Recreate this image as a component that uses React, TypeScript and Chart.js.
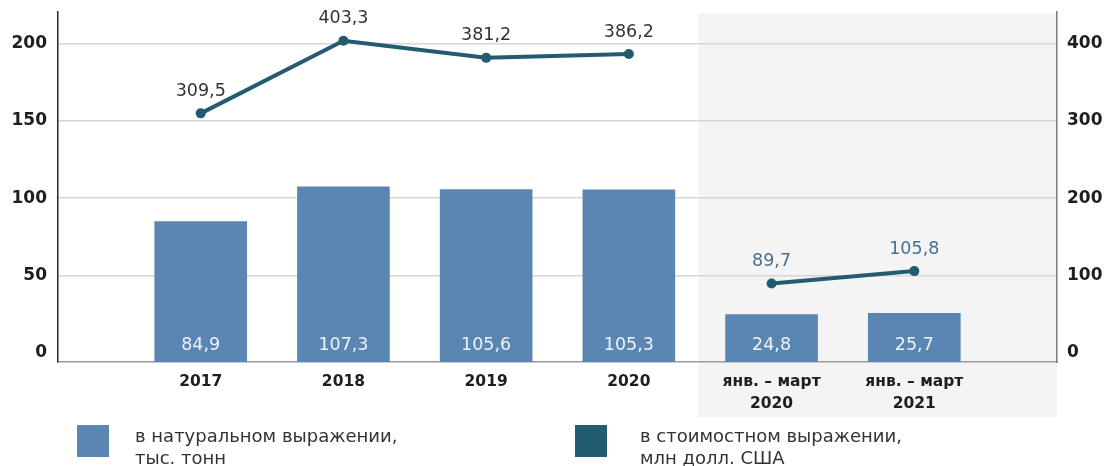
import React, { useEffect, useRef } from "react";
import { Chart, registerables } from "chart.js";

Chart.register(...registerables);

const categories: (string | string[])[] = ["2017", "2018", "2019", "2020", ["янв. – март", "2020"], ["янв. – март", "2021"]];
const volumeValues = [84.9, 107.3, 105.6, 105.3, 24.8, 25.7];
const valueValues = [309.5, 403.3, 381.2, 386.2, null, 89.7, 105.8];
const valueXs = [0, 1, 2, 3, 3.5, 4, 5];
const leftTicks = [0, 50, 100, 150, 200];
const rightTicks = [0, 100, 200, 300, 400];
const seriesNames = ["в натуральном выражении,\nтыс. тонн", "в стоимостном выражении,\nмлн долл. США"];

const FONT = "'DejaVu Sans', sans-serif";
const BAR_COLOR = "#5a86b4";
const LINE_COLOR = "#235b70";

const fmt = (v: number) => v.toFixed(1).replace(".", ",");

const zeroPad = (s: any) => {
  s.paddingTop = 0;
  s.paddingBottom = 0;
  s.paddingLeft = 0;
  s.paddingRight = 0;
};

export default function App() {
  const ref = useRef<HTMLCanvasElement | null>(null);

  useEffect(() => {
    if (!ref.current) return;

    const shadePlugin = {
      id: "shade",
      beforeDraw(chart: any) {
        const { ctx, chartArea, scales } = chart;
        const x0 = scales.x.getPixelForValue(3.5) - 2;
        ctx.save();
        ctx.fillStyle = "#f4f4f4";
        ctx.fillRect(x0, chartArea.top + 1, chartArea.right - x0, 416 - chartArea.top);
        ctx.restore();
      },
    };

    const labelPlugin = {
      id: "labels",
      afterDatasetsDraw(chart: any) {
        const { ctx } = chart;
        ctx.save();
        ctx.font = `17.5px ${FONT}`;
        ctx.textAlign = "center";
        ctx.textBaseline = "middle";
        const barMeta = chart.getDatasetMeta(0);
        barMeta.data.forEach((el: any, i: number) => {
          ctx.fillStyle = "#eef2f7";
          ctx.fillText(fmt(volumeValues[i]), el.x, 345);
        });
        const lineMeta = chart.getDatasetMeta(1);
        lineMeta.data.forEach((el: any, i: number) => {
          const v = valueValues[i];
          if (v === null || v === undefined) return;
          ctx.fillStyle = valueXs[i] > 3.5 ? "#47708f" : "#333333";
          ctx.fillText(fmt(v), el.x, el.y - 22);
        });
        ctx.restore();
      },
    };

    const chart = new Chart(ref.current, {
      type: "bar",
      data: {
        datasets: [
          {
            type: "bar",
            label: "volume",
            data: volumeValues.map((v, i) => ({ x: i, y: v })),
            backgroundColor: BAR_COLOR,
            barThickness: 92,
            base: -5.8,
            yAxisID: "y",
            xAxisID: "x",
            order: 2,
          } as any,
          {
            type: "line",
            label: "value",
            data: valueValues.map((v, i) => ({ x: valueXs[i], y: v })),
            borderColor: LINE_COLOR,
            backgroundColor: LINE_COLOR,
            borderWidth: 4,
            pointRadius: 5,
            pointBackgroundColor: LINE_COLOR,
            pointBorderWidth: 0,
            spanGaps: false,
            yAxisID: "y2",
            xAxisID: "x",
            order: 1,
          } as any,
        ],
      },
      options: {
        animation: false,
        responsive: false,
        maintainAspectRatio: false,
        layout: { padding: { top: 12, left: 0, right: 0, bottom: 0 } },
        plugins: {
          legend: { display: false },
          tooltip: { enabled: false },
        },
        scales: {
          x: {
            type: "linear",
            min: -1,
            max: 6,
            offset: false,
            position: "bottom",
            grid: { display: false, drawTicks: false, offset: false },
            border: { display: true, color: "#9a9a9a", width: 1.5 },
            afterBuildTicks: (s: any) => {
              s.ticks = categories.map((_, i) => ({ value: i }));
            },
            afterFit: (s: any) => {
              s.height = 104;
              zeroPad(s);
            },
            ticks: {
              autoSkip: false,
              maxRotation: 0,
              padding: 9,
              color: "#1e1e1e",
              font: { family: FONT, size: 15.5, weight: "bold", lineHeight: 1.42 },
              callback: (v: any) => {
                const c = categories[Math.round(Number(v))];
                return c === undefined ? "" : c;
              },
            },
          },
          y: {
            type: "linear",
            position: "left",
            min: -5.8,
            max: 220.2,
            afterBuildTicks: (s: any) => {
              s.ticks = leftTicks.map((v) => ({ value: v }));
            },
            afterFit: (s: any) => {
              s.width = 58;
              zeroPad(s);
            },
            grid: {
              drawTicks: false,
              color: (c: any) => (c.tick && c.tick.value === 0 ? "rgba(0,0,0,0)" : "#d6d6d6"),
              lineWidth: 1.5,
            },
            border: { display: true, color: "#2a2a2a", width: 1.5 },
            ticks: {
              padding: 11,
              color: "#1e1e1e",
              font: { family: FONT, size: 17, weight: "bold" },
            },
          },
          y2: {
            type: "linear",
            position: "right",
            min: -11.6,
            max: 440.4,
            afterBuildTicks: (s: any) => {
              s.ticks = rightTicks.map((v) => ({ value: v }));
            },
            afterFit: (s: any) => {
              s.width = 56;
              zeroPad(s);
            },
            grid: { display: false, drawTicks: false },
            border: { display: true, color: "#7a7a7a", width: 1.5 },
            ticks: {
              padding: 10,
              color: "#1e1e1e",
              font: { family: FONT, size: 17, weight: "bold" },
            },
          },
        },
      } as any,
      plugins: [shadePlugin, labelPlugin],
    });

    return () => chart.destroy();
  }, []);

  const legendText = {
    position: "absolute" as const,
    top: 425,
    fontFamily: FONT,
    fontSize: 18,
    lineHeight: "22px",
    color: "#333",
    whiteSpace: "pre" as const,
  };

  return (
    <div style={{ position: "fixed", left: 0, top: 0, width: 1113, height: 466, background: "#fff" }}>
      <canvas ref={ref} width={1113} height={466} style={{ position: "absolute", left: 0, top: 0 }} />
      <div style={{ position: "absolute", left: 77, top: 425, width: 32, height: 32, background: BAR_COLOR }} />
      <div style={{ ...legendText, left: 135 }}>{seriesNames[0]}</div>
      <div style={{ position: "absolute", left: 575, top: 425, width: 32, height: 32, background: LINE_COLOR }} />
      <div style={{ ...legendText, left: 640 }}>{seriesNames[1]}</div>
    </div>
  );
}
